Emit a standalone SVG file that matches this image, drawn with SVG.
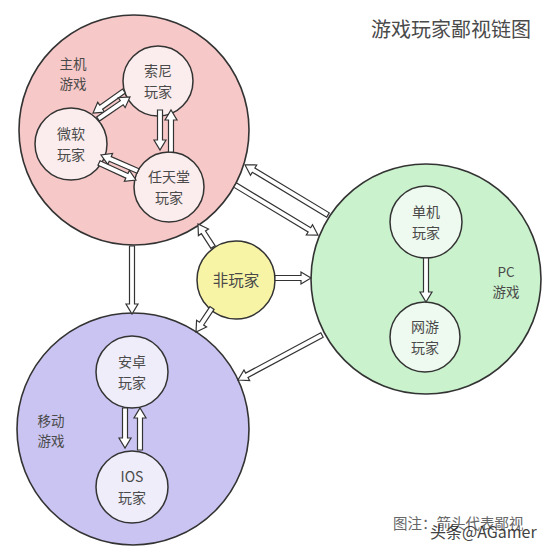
<svg xmlns="http://www.w3.org/2000/svg" width="550" height="550" viewBox="0 0 550 550">
<style>
.big{stroke:#333;stroke-width:1.6}
.inner{stroke:#333;stroke-width:1.5}
.pinkB{fill:#f7c8c8}.pinkI{fill:#fbeded}
.greenB{fill:#c9f2cd}.greenI{fill:#eef9ef}
.purB{fill:#c9c4f1}.purI{fill:#efedfa}
.yel{fill:#f8f4a6}
text{font-family:"Noto Sans CJK SC","Noto Sans",sans-serif;fill:#4a4a4a;text-anchor:middle}
.lbl{font-size:14px}
.grp{font-size:13.5px}
.arr{fill:#fff;stroke:#333;stroke-width:1.2;stroke-linejoin:miter}
</style>
<rect width="550" height="550" fill="#fff"/>
<g id="title"><text x="451" y="37" style="font-size:20px">游戏玩家鄙视链图</text></g>

<g id="console">
<circle class="big pinkB" cx="134" cy="130" r="115"/>
<text class="grp" x="73" y="69">主机<tspan x="73" dy="20">游戏</tspan></text>
</g>
<g id="sony"><circle class="inner pinkI" cx="158" cy="81" r="35"/><text class="lbl" x="158" y="76">索尼<tspan x="158" dy="20.5">玩家</tspan></text></g>
<g id="microsoft"><circle class="inner pinkI" cx="71" cy="144" r="36"/><text class="lbl" x="71" y="139">微软<tspan x="71" dy="20.5">玩家</tspan></text></g>
<g id="nintendo"><circle class="inner pinkI" cx="169" cy="187" r="35"/><text class="lbl" x="169" y="182">任天堂<tspan x="169" dy="20.5">玩家</tspan></text></g>

<g id="pc">
<circle class="big greenB" cx="426" cy="279" r="115"/>
<text class="grp" x="506" y="277">PC<tspan x="506" dy="20">游戏</tspan></text>
</g>
<g id="single"><circle class="inner greenI" cx="426" cy="222" r="36"/><text class="lbl" x="426" y="217">单机<tspan x="426" dy="20.5">玩家</tspan></text></g>
<g id="online"><circle class="inner greenI" cx="425" cy="337" r="35"/><text class="lbl" x="425" y="332">网游<tspan x="425" dy="20.5">玩家</tspan></text></g>

<g id="mobile">
<circle class="big purB" cx="133" cy="429" r="116"/>
<text class="grp" x="51" y="426">移动<tspan x="51" dy="20">游戏</tspan></text>
</g>
<g id="android"><circle class="inner purI" cx="132" cy="372" r="36"/><text class="lbl" x="132" y="367">安卓<tspan x="132" dy="20.5">玩家</tspan></text></g>
<g id="ios"><circle class="inner purI" cx="132" cy="487" r="36"/><text class="lbl" x="132" y="482">IOS<tspan x="132" dy="20.5">玩家</tspan></text></g>

<g id="nonplayer"><circle class="inner yel" cx="236" cy="280" r="39"/><text x="236" y="285.5" style="font-size:15.5px">非玩家</text></g>

<g id="connectors">
<path class="arr" transform="translate(124,91) rotate(144.6)" d="M0,-2.5H28V-6L38,0L28,6V2.5H0Z"/>
<path class="arr" transform="translate(98,119) rotate(-34.5)" d="M0,-2.5H28.8V-6L38.8,0L28.8,6V2.5H0Z"/>
<path class="arr" transform="translate(160,110) rotate(90)" d="M0,-2.5H30V-6L40,0L30,6V2.5H0Z"/>
<path class="arr" transform="translate(171,152) rotate(-90)" d="M0,-2.5H32V-6L42,0L32,6V2.5H0Z"/>
<path class="arr" transform="translate(138,171) rotate(-156.6)" d="M0,-2.5H30.3V-6L40.3,0L30.3,6V2.5H0Z"/>
<path class="arr" transform="translate(99,163) rotate(24.7)" d="M0,-2.5H30.7V-6L40.7,0L30.7,6V2.5H0Z"/>
<path class="arr" transform="translate(328,215) rotate(-148.9)" d="M0,-2.5H86.9V-6L96.9,0L86.9,6V2.5H0Z"/>
<path class="arr" transform="translate(235,185) rotate(31.1)" d="M0,-2.5H86.9V-6L96.9,0L86.9,6V2.5H0Z"/>
<path class="arr" transform="translate(213,247) rotate(-123.1)" d="M0,-2.5H17.5V-6L27.5,0L17.5,6V2.5H0Z"/>
<path class="arr" transform="translate(275,278) rotate(0)" d="M0,-2.5H26V-6L36,0L26,6V2.5H0Z"/>
<path class="arr" transform="translate(212,308) rotate(123.7)" d="M0,-2.5H18.8V-6L28.8,0L18.8,6V2.5H0Z"/>
<path class="arr" transform="translate(322,335) rotate(151.8)" d="M0,-2.5H85.3V-6L95.3,0L85.3,6V2.5H0Z"/>
<path class="arr" transform="translate(132,246) rotate(90)" d="M0,-2.5H58V-6L68,0L58,6V2.5H0Z"/>
<path class="arr" transform="translate(426,258) rotate(90)" d="M0,-2.5H34V-6L44,0L34,6V2.5H0Z"/>
<path class="arr" transform="translate(125,408) rotate(90)" d="M0,-2.5H30V-6L40,0L30,6V2.5H0Z"/>
<path class="arr" transform="translate(140,450) rotate(-90)" d="M0,-2.5H32V-6L42,0L32,6V2.5H0Z"/>
</g>

<g id="caption">
<text x="393" y="529" style="font-size:14.5px;text-anchor:start;fill:#666">图注：箭头代表鄙视</text>
<text x="430" y="538" style="font-size:16px;text-anchor:start;fill:#222;opacity:0.85">头条@AGamer</text>
</g>
</svg>
